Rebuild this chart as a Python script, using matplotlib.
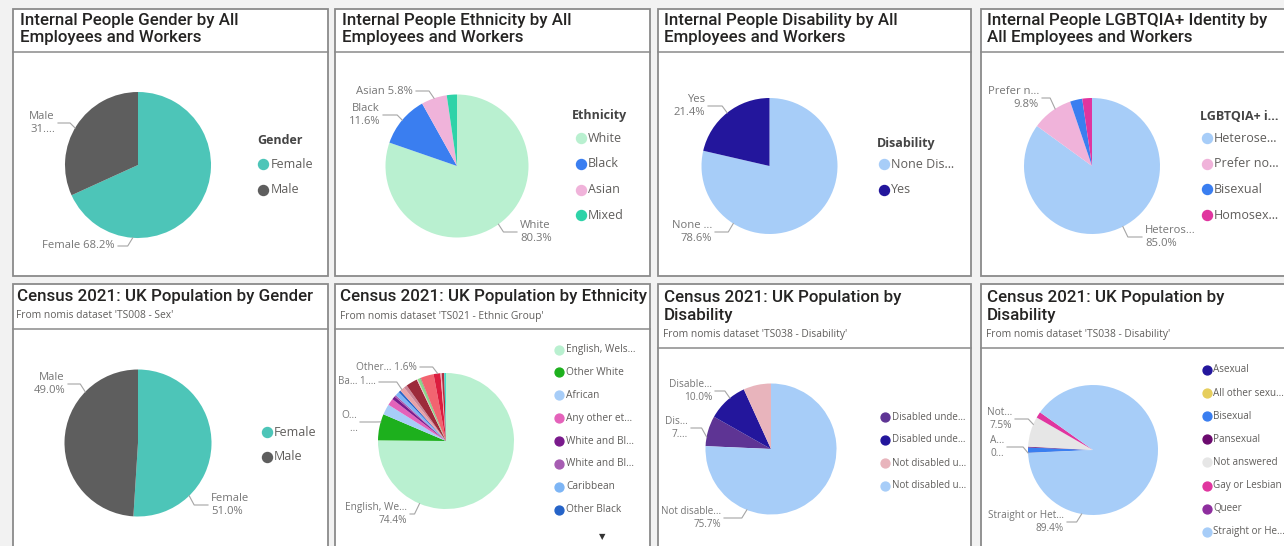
import matplotlib
matplotlib.use('Agg')
import matplotlib.pyplot as plt
from matplotlib.lines import Line2D
from matplotlib.patches import Rectangle
import numpy as np

W, H = 1284, 546

# ---------------- data ----------------
TEAL = '#4DC5B8'
GREY = '#5E5E5E'
LIGHT_BLUE = '#A7CDF8'
PINK = '#F0B3DA'
BLUE = '#3A7EF0'
MAGENTA = '#E0359F'
INDIGO = '#23169C'

gender_names = ['Female', 'Male']
gender_colors = [TEAL, GREY]
internal_gender = [68.2, 31.8]
census_gender = [51.0, 49.0]

ethnicity_names = ['White', 'Black', 'Asian', 'Mixed']
ethnicity_colors = ['#B9F0D0', BLUE, PINK, '#2ED3A8']
internal_ethnicity = [80.3, 11.6, 5.8, 2.3]

disability_names = ['None Dis…', 'Yes']
disability_colors = [LIGHT_BLUE, INDIGO]
internal_disability = [78.6, 21.4]

lgbt_names = ['Heterose…', 'Prefer no…', 'Bisexual', 'Homosex…']
lgbt_colors = [LIGHT_BLUE, PINK, BLUE, MAGENTA]
internal_lgbt = [85.0, 9.8, 2.9, 2.3]

census_eth_names = ['English, Wels…', 'Other White', 'African', 'Any other et…',
                    'White and Bl…', 'White and Bl…', 'Caribbean', 'Other Black',
                    'Bangladeshi', 'Other Mixed', 'Pakistani', 'Roma', 'Chinese',
                    'Gypsy or Irish Traveller', 'Indian', 'Other Asian',
                    'White and Asian', 'Arab', 'Irish']
census_eth_colors = ['#B9F0D0', '#1DB01D', '#A7CDF8', '#E462BA', '#7A1A8C',
                     '#A65DB2', '#7DB5F5', '#2563C8', '#E9A3A8', '#CC8597',
                     '#9C2A3A', '#F4B6C8', '#8AD88A', '#555555', '#F26470',
                     '#DC1C3E', '#F7A8B8', '#B03040', '#3FDDD0']
census_ethnicity = [74.4, 6.2, 2.5, 1.6, 0.8, 0.4, 1.0, 0.5, 1.1, 0.8, 2.7, 0.2,
                    0.7, 0.1, 3.1, 1.6, 0.3, 0.6, 0.4]
census_eth_legend = 8  # entries visible before the scroll arrow

census_dis_names = ['Disabled unde…', 'Disabled unde…', 'Not disabled u…', 'Not disabled u…']
census_dis_colors = ['#5E3494', INDIGO, '#E8B4BC', LIGHT_BLUE]
census_disability = [7.5, 10.0, 6.8, 75.7]

census_sex_names = ['Asexual', 'All other sexu…', 'Bisexual', 'Pansexual',
                    'Not answered', 'Gay or Lesbian', 'Queer', 'Straight or He…']
census_sex_colors = [INDIGO, '#E6CE5C', BLUE, '#6B0A6E', '#E6E6E6', MAGENTA,
                     '#8E2E9E', LIGHT_BLUE]
census_sexuality = [0.06, 0.02, 1.3, 0.2, 7.5, 1.5, 0.02, 89.4]

# ---------------- style ----------------
BORDER = '#8A8A8A'
TITLE_C = '#252423'
LABEL_C = '#767676'
LEG_C = '#605E5C'
TITLE_FONT = 'Roboto'
BODY_FONT = 'Open Sans'

fig = plt.figure(figsize=(W / 100, H / 100), dpi=100)
fig.patch.set_facecolor('#F2F2F2')


def box(x0, y0, x1, y1, sep):
    fig.add_artist(Rectangle((x0 / W, 1 - y1 / H), (x1 - x0) / W, (y1 - y0) / H,
                             transform=fig.transFigure, facecolor='white',
                             edgecolor=BORDER, linewidth=1.3, zorder=0.1))
    fig.add_artist(Line2D([x0 / W, x1 / W], [1 - sep / H] * 2,
                          transform=fig.transFigure, color=BORDER, lw=1.1,
                          zorder=0.2))


def title(x, y, text, size=12.2):
    fig.text(x / W, 1 - y / H, text, fontsize=size, family=TITLE_FONT,
             weight='medium', color=TITLE_C, ha='left', va='center',
             linespacing=1.2, zorder=3)


def subtitle(x, y, text):
    fig.text(x / W, 1 - y / H, text, fontsize=7.4, family=BODY_FONT,
             color=LEG_C, ha='left', va='center', zorder=3)


def pie(cx, cy, r, values, colors, start=0.0):
    ax = fig.add_axes([(cx - r) / W, 1 - (cy + r) / H, 2 * r / W, 2 * r / H])
    ax.pie(values, colors=colors, startangle=90 - start, counterclock=False,
           radius=1, wedgeprops={'linewidth': 0})
    ax.set_xlim(-1, 1)
    ax.set_ylim(-1, 1)
    ax.set_aspect('equal')
    ax.axis('off')
    ax.set_zorder(1)
    edges = start + 360 * np.concatenate([[0], np.cumsum(values)]) / sum(values)
    return list(zip(edges[:-1], edges[1:]))


def label(cx, cy, r, span, frac, text, tx, ty, side, size=8.1):
    a = np.radians(span[0] + frac * (span[1] - span[0]))
    ex, ey = cx + r * np.sin(a), cy - r * np.cos(a)
    xs = [ex, ex + 5 * side, tx - 3 * side]
    ys = [ey, ty, ty]
    fig.add_artist(Line2D(np.array(xs) / W, 1 - np.array(ys) / H,
                          transform=fig.transFigure, color='#A5A5A5', lw=0.8,
                          zorder=2))
    ha = 'right' if side < 0 else 'left'
    fig.text(tx / W, 1 - ty / H, text, fontsize=size, family=BODY_FONT,
             color=LABEL_C, ha=ha, va='center', multialignment=ha,
             linespacing=1.2, zorder=3)


def legend(dot_x, text_x, y0, step, names, colors, size=9.0, dot=7.2,
           head=None):
    if head is not None:
        fig.text(head[0] / W, 1 - head[1] / H, head[2], fontsize=size,
                 family=BODY_FONT, weight='bold', color='#444444',
                 ha='left', va='center', zorder=3)
    for i, (n, c) in enumerate(zip(names, colors)):
        y = y0 + i * step
        fig.add_artist(Line2D([dot_x / W], [1 - y / H], marker='o',
                              markersize=dot, color=c, lw=0,
                              transform=fig.transFigure, zorder=3))
        fig.text(text_x / W, 1 - y / H, n, fontsize=size, family=BODY_FONT,
                 color=LEG_C, ha='left', va='center', zorder=3)


# ---------------- top row: internal people ----------------
box(13, 9, 328, 276, 52)
title(20, 29, 'Internal People Gender by All\nEmployees and Workers')
sp = pie(138, 165, 73, internal_gender, gender_colors)
label(138, 165, 73, sp[1], 0.48, 'Male\n31.…', 55, 123, -1)
label(138, 165, 73, sp[0], 0.75, 'Female 68.2%', 115, 246, -1)
legend(263, 271, 164, 25.5, gender_names, gender_colors, head=(257, 141, 'Gender'))

box(335, 9, 650, 276, 52)
title(342, 29, 'Internal People Ethnicity by All\nEmployees and Workers')
sp = pie(457, 166, 71.5, internal_ethnicity, ethnicity_colors)
label(457, 166, 71.5, sp[2], 0.5, 'Asian 5.8%', 413, 91, -1)
label(457, 166, 71.5, sp[1], 0.5, 'Black\n11.6%', 380, 115, -1)
label(457, 166, 71.5, sp[0], 0.5, 'White\n80.3%', 520, 232, 1)
legend(581, 588, 138, 25.8, ethnicity_names, ethnicity_colors,
       head=(572, 116, 'Ethnicity'))

box(658, 9, 971, 276, 52)
title(664, 29, 'Internal People Disability by All\nEmployees and Workers')
sp = pie(769.5, 166, 68, internal_disability, disability_colors)
label(769.5, 166, 68, sp[1], 0.5, 'Yes\n21.4%', 705, 106, -1)
label(769.5, 166, 68, sp[0], 0.75, 'None …\n78.6%', 712, 232, -1)
legend(884, 891, 164, 25.5, disability_names, disability_colors,
       head=(877, 143, 'Disability'))

box(981, 9, 1300, 276, 52)
title(987, 29, 'Internal People LGBTQIA+ Identity by\nAll Employees and Workers')
sp = pie(1092, 166, 68, internal_lgbt, lgbt_colors)
label(1092, 166, 68, sp[1], 0.6, 'Prefer n…\n9.8%', 1039, 98, -1)
label(1092, 166, 68, sp[0], 0.5, 'Heteros…\n85.0%', 1145, 237, 1)
legend(1207, 1214, 138, 25.7, lgbt_names, lgbt_colors,
       head=(1200, 116, 'LGBTQIA+ i…'))

# ---------------- bottom row: census 2021 ----------------
box(13, 284, 328, 560, 329)
title(17, 297, 'Census 2021: UK Population by Gender')
subtitle(16, 316, "From nomis dataset 'TS008 - Sex'")
sp = pie(138, 443, 73.5, census_gender, gender_colors)
label(138, 443, 73.5, sp[1], 0.74, 'Male\n49.0%', 65, 384, -1)
label(138, 443, 73.5, sp[0], 0.74, 'Female\n51.0%', 211, 505, 1)
legend(267, 274, 432, 25, gender_names, gender_colors)

box(335, 284, 650, 560, 329)
title(340, 297, 'Census 2021: UK Population by Ethnicity')
subtitle(340, 317, "From nomis dataset 'TS021 - Ethnic Group'")
sp = pie(446, 441, 68, census_ethnicity, census_eth_colors)
label(446, 441, 68, sp[15], 0.6, 'Other… 1.6%', 417, 367, -1, 7.3)
label(446, 441, 68, sp[8], 0.4, 'Ba… 1.…', 376, 382, -1, 7.0)
label(446, 441, 68, sp[1], 0.7, 'O…\n…', 357, 422, -1, 7.3)
label(446, 441, 68, sp[0], 0.75, 'English, We…\n74.4%', 407, 514, -1, 7.3)
legend(559, 566, 349.5, 22.9, census_eth_names[:census_eth_legend],
       census_eth_colors[:census_eth_legend], size=7.3, dot=6.4)
fig.text(602 / W, 1 - 537 / H, '▼', fontsize=6, family='DejaVu Sans',
         color='#333333', ha='center', va='center')

box(658, 284, 971, 560, 348)
title(664, 306.5, 'Census 2021: UK Population by\nDisability')
subtitle(663, 335, "From nomis dataset 'TS038 - Disability'")
sp = pie(771, 449, 65.5, census_disability, census_dis_colors, start=272.5)
label(771, 449, 65.5, sp[1], 0.6, 'Disable…\n10.0%', 712, 391, -1, 7.3)
label(771, 449, 65.5, sp[0], 0.3, 'Dis…\n7.…', 688, 428, -1, 7.3)
label(771, 449, 65.5, sp[3], 0.74, 'Not disable…\n75.7%', 721, 518, -1, 7.1)
legend(885, 892, 417, 23, census_dis_names, census_dis_colors, size=7.0, dot=6.4)

box(981, 284, 1300, 560, 348)
title(987, 306.5, 'Census 2021: UK Population by\nDisability')
subtitle(986, 335, "From nomis dataset 'TS038 - Disability'")
sp = pie(1093, 450, 65, census_sexuality, census_sex_colors, start=267.3)
label(1093, 450, 65, sp[4], 0.75, 'Not…\n7.5%', 1012, 419, -1, 7.3)
label(1093, 450, 65, sp[0], 0.5, 'A…\n0…', 1004, 447, -1, 7.3)
label(1093, 450, 65, sp[7], 0.76, 'Straight or Het…\n89.4%', 1064, 522, -1, 7.2)
legend(1207, 1213, 370, 23.1, census_sex_names, census_sex_colors, size=7.1,
       dot=6.4)

fig.savefig('out.png', dpi=100)
